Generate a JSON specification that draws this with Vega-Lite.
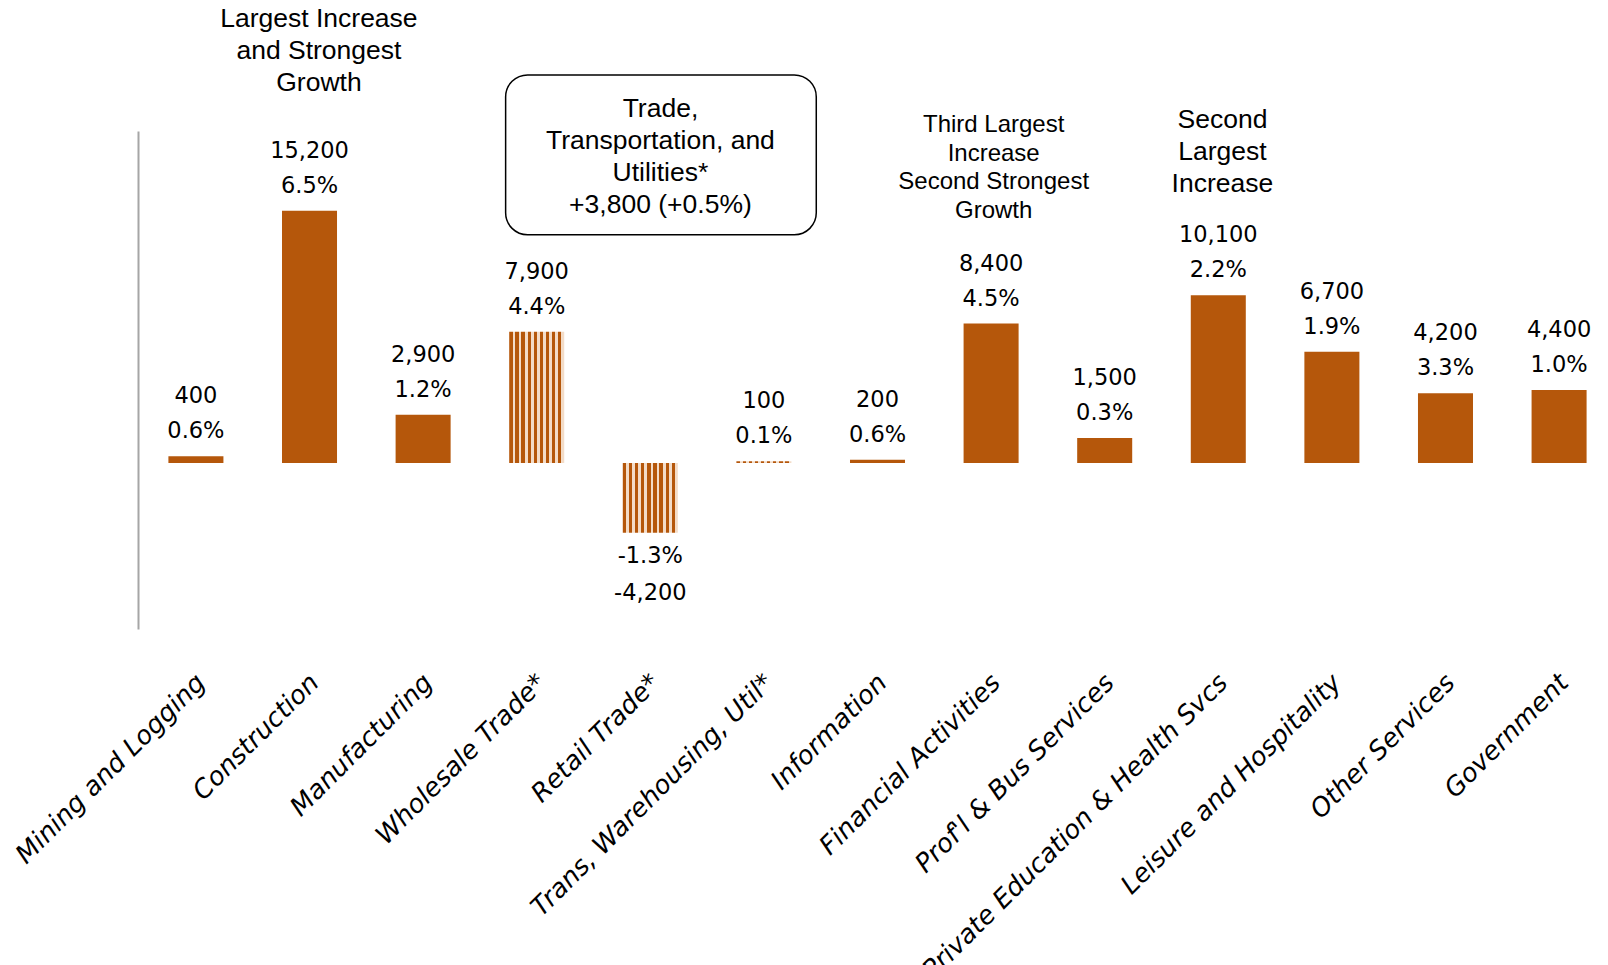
{
  "$schema": "https://vega.github.io/schema/vega-lite/v6.json",
  "width": 1479,
  "height": 498,
  "autosize": {"type": "none"},
  "padding": {"left": 138, "top": 131, "right": 0, "bottom": 336},
  "background": "#ffffff",
  "config": {
    "view": {"stroke": null},
    "locale": {"number": {"decimal": ".", "thousands": ",", "grouping": [3], "currency": ["$", ""], "minus": "-"}}
  },
  "datasets": {
    "sectors": [
      {"sector": "Mining and Logging", "value": 400, "pct": 0.006, "kind": "solid"},
      {"sector": "Construction", "value": 15200, "pct": 0.065, "kind": "solid"},
      {"sector": "Manufacturing", "value": 2900, "pct": 0.012, "kind": "solid"},
      {"sector": "Wholesale Trade*", "value": 7900, "pct": 0.044, "kind": "pattern"},
      {"sector": "Retail Trade*", "value": -4200, "pct": -0.013, "kind": "pattern"},
      {"sector": "Trans, Warehousing, Util*", "value": 100, "pct": 0.001, "kind": "pattern"},
      {"sector": "Information", "value": 200, "pct": 0.006, "kind": "solid"},
      {"sector": "Financial Activities", "value": 8400, "pct": 0.045, "kind": "solid"},
      {"sector": "Prof'l & Bus Services", "value": 1500, "pct": 0.003, "kind": "solid"},
      {"sector": "Private Education & Health Svcs", "value": 10100, "pct": 0.022, "kind": "solid"},
      {"sector": "Leisure and Hospitality", "value": 6700, "pct": 0.019, "kind": "solid"},
      {"sector": "Other Services", "value": 4200, "pct": 0.033, "kind": "solid"},
      {"sector": "Government", "value": 4400, "pct": 0.010, "kind": "solid"}
    ],
    "notes": [
      {"note": "Largest Increase\nand Strongest\nGrowth", "nx": 1.083, "ny": 26777, "kind": "major"},
      {"note": "Trade,\nTransportation, and\nUtilities*\n+3,800 (+0.5%)", "nx": 4.09, "ny": 21343, "kind": "major"},
      {"note": "Third Largest\nIncrease\nSecond Strongest\nGrowth", "nx": 7.024, "ny": 20355, "kind": "minor"},
      {"note": "Second\nLargest\nIncrease", "nx": 9.038, "ny": 20663, "kind": "major"}
    ],
    "box": [
      {"x0": 2.727, "x1": 5.462, "y0": 23380, "y1": 13747}
    ]
  },
  "layer": [
    {
      "data": {"name": "sectors"},
      "encoding": {
        "x": {
          "field": "sector", "type": "nominal", "sort": null,
          "scale": {"paddingInner": 0.5157, "paddingOuter": 0.2677},
          "axis": {
            "title": null, "domain": false, "ticks": false, "grid": false,
            "labelAngle": -45, "labelAlign": "right", "labelBaseline": "top",
            "labelFont": "DejaVu Sans", "labelFontSize": 26, "labelFontStyle": "italic",
            "labelColor": "#000000", "labelPadding": 40, "labelOffset": -4,
            "labelLimit": 0, "labelOverlap": false, "labelBound": false
          }
        },
        "y": {
          "field": "value", "type": "quantitative",
          "scale": {"domain": [-10000, 20000], "nice": false, "zero": false},
          "axis": {"title": null, "labels": false, "ticks": false, "grid": false, "domain": true, "domainColor": "#A6A6A6", "domainWidth": 2}
        }
      },
      "layer": [
        {
          "mark": {"type": "bar"},
          "encoding": {
            "y2": {"datum": 0},
            "color": {
              "condition": {
                "test": "datum.kind === 'pattern'",
                "value": {
                  "gradient": "linear", "x1": 0, "y1": 0, "x2": 1, "y2": 0,
                  "stops": [
                    {"offset": 0, "color": "#B5570B"}, {"offset": 0.0611, "color": "#B5570B"},
                    {"offset": 0.0611, "color": "#F3DCC8"}, {"offset": 0.1111, "color": "#F3DCC8"},
                    {"offset": 0.1111, "color": "#B5570B"}, {"offset": 0.1722, "color": "#B5570B"},
                    {"offset": 0.1722, "color": "#F3DCC8"}, {"offset": 0.2222, "color": "#F3DCC8"},
                    {"offset": 0.2222, "color": "#B5570B"}, {"offset": 0.2833, "color": "#B5570B"},
                    {"offset": 0.2833, "color": "#F3DCC8"}, {"offset": 0.3333, "color": "#F3DCC8"},
                    {"offset": 0.3333, "color": "#B5570B"}, {"offset": 0.3944, "color": "#B5570B"},
                    {"offset": 0.3944, "color": "#F3DCC8"}, {"offset": 0.4444, "color": "#F3DCC8"},
                    {"offset": 0.4444, "color": "#B5570B"}, {"offset": 0.5056, "color": "#B5570B"},
                    {"offset": 0.5056, "color": "#F3DCC8"}, {"offset": 0.5556, "color": "#F3DCC8"},
                    {"offset": 0.5556, "color": "#B5570B"}, {"offset": 0.6167, "color": "#B5570B"},
                    {"offset": 0.6167, "color": "#F3DCC8"}, {"offset": 0.6667, "color": "#F3DCC8"},
                    {"offset": 0.6667, "color": "#B5570B"}, {"offset": 0.7278, "color": "#B5570B"},
                    {"offset": 0.7278, "color": "#F3DCC8"}, {"offset": 0.7778, "color": "#F3DCC8"},
                    {"offset": 0.7778, "color": "#B5570B"}, {"offset": 0.8389, "color": "#B5570B"},
                    {"offset": 0.8389, "color": "#F3DCC8"}, {"offset": 0.8889, "color": "#F3DCC8"},
                    {"offset": 0.8889, "color": "#B5570B"}, {"offset": 0.95, "color": "#B5570B"},
                    {"offset": 0.95, "color": "#F3DCC8"}, {"offset": 1, "color": "#F3DCC8"}
                  ]
                }
              },
              "value": "#B5570B"
            }
          }
        },
        {
          "mark": {"type": "text", "dy": -60, "baseline": "middle", "align": "center", "font": "DejaVu Sans", "fontSize": 22.5, "color": "#000000"},
          "encoding": {"text": {"condition": {"test": "datum.value < 0", "value": ""}, "field": "value", "type": "quantitative", "format": ","}}
        },
        {
          "mark": {"type": "text", "dy": -25, "baseline": "middle", "align": "center", "font": "DejaVu Sans", "fontSize": 22.5, "color": "#000000"},
          "encoding": {"text": {"condition": {"test": "datum.value < 0", "value": ""}, "field": "pct", "type": "quantitative", "format": ".1%"}}
        },
        {
          "mark": {"type": "text", "dy": 23, "baseline": "middle", "align": "center", "font": "DejaVu Sans", "fontSize": 22.5, "color": "#000000"},
          "encoding": {"text": {"condition": {"test": "datum.value >= 0", "value": ""}, "field": "pct", "type": "quantitative", "format": ".1%"}}
        },
        {
          "mark": {"type": "text", "dy": 60, "baseline": "middle", "align": "center", "font": "DejaVu Sans", "fontSize": 22.5, "color": "#000000"},
          "encoding": {"text": {"condition": {"test": "datum.value >= 0", "value": ""}, "field": "value", "type": "quantitative", "format": ","}}
        }
      ]
    },
    {
      "mark": {"type": "rule", "color": "#A6A6A6", "strokeWidth": 2},
      "encoding": {
        "y": {"datum": 0, "type": "quantitative", "scale": {"domain": [-10000, 20000], "nice": false, "zero": false}, "axis": null}
      }
    },
    {
      "data": {"name": "box"},
      "mark": {"type": "rect", "cornerRadius": 22, "fill": "#ffffff", "stroke": "#000000", "strokeWidth": 1.5},
      "encoding": {
        "x": {"field": "x0", "type": "quantitative", "scale": {"domain": [-0.5098, 12.512], "nice": false, "zero": false}, "axis": null},
        "x2": {"field": "x1"},
        "y": {"field": "y0", "type": "quantitative", "scale": {"domain": [-10000, 20000], "nice": false, "zero": false}, "axis": null},
        "y2": {"field": "y1"}
      }
    },
    {
      "data": {"name": "notes"},
      "transform": [{"filter": "datum.kind === 'major'"}],
      "mark": {"type": "text", "lineBreak": "\n", "font": "Liberation Sans", "fontSize": 26.5, "lineHeight": 32, "align": "center", "baseline": "middle", "color": "#000000"},
      "encoding": {
        "x": {"field": "nx", "type": "quantitative", "scale": {"domain": [-0.5098, 12.512], "nice": false, "zero": false}, "axis": null},
        "y": {"field": "ny", "type": "quantitative", "scale": {"domain": [-10000, 20000], "nice": false, "zero": false}, "axis": null},
        "text": {"field": "note", "type": "nominal"}
      }
    },
    {
      "data": {"name": "notes"},
      "transform": [{"filter": "datum.kind === 'minor'"}],
      "mark": {"type": "text", "lineBreak": "\n", "font": "Liberation Sans", "fontSize": 24, "lineHeight": 28.7, "align": "center", "baseline": "middle", "color": "#000000"},
      "encoding": {
        "x": {"field": "nx", "type": "quantitative", "scale": {"domain": [-0.5098, 12.512], "nice": false, "zero": false}, "axis": null},
        "y": {"field": "ny", "type": "quantitative", "scale": {"domain": [-10000, 20000], "nice": false, "zero": false}, "axis": null},
        "text": {"field": "note", "type": "nominal"}
      }
    }
  ],
  "resolve": {"scale": {"x": "independent", "y": "independent"}}
}
